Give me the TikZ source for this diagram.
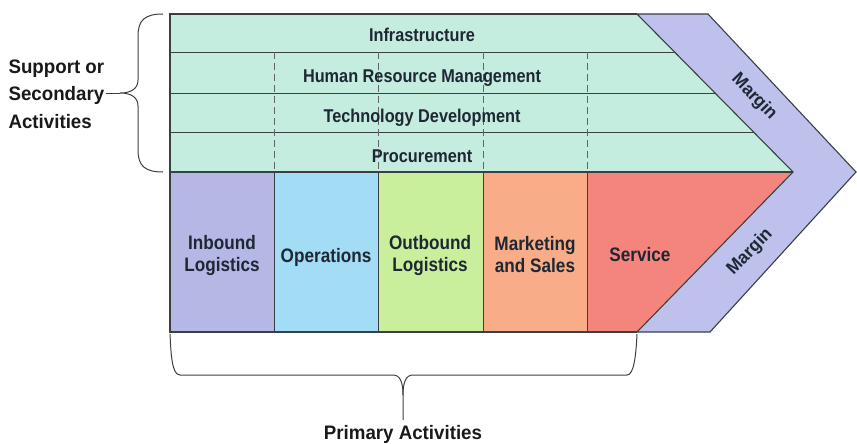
\documentclass[tikz,border=0pt]{standalone}
\usepackage{fontspec}
\setmainfont{Liberation Sans}[FakeStretch=0.88]
\newfontfamily\widefont{Liberation Sans}[FakeStretch=0.96]
\usetikzlibrary{positioning}
\definecolor{supportgreen}{HTML}{C4ECDF}
\definecolor{margincol}{HTML}{BDC1EC}
\definecolor{inboundcol}{HTML}{B5B8E4}
\definecolor{opscol}{HTML}{A3DCF5}
\definecolor{outboundcol}{HTML}{C9EE9C}
\definecolor{marketcol}{HTML}{F8AD88}
\definecolor{servicecol}{HTML}{F4857C}
\definecolor{edgecol}{HTML}{3A3F44}
\definecolor{inkcol}{HTML}{1E2733}
\begin{document}
\begin{tikzpicture}[x=1pt, y=-1pt, line width=1.1pt,
	edge/.style={draw=edgecol, line join=miter},
	lbl/.style={font=\bfseries\fontsize{18.5}{22}\selectfont, text=inkcol, align=center, inner sep=0pt},
	primlbl/.style={lbl, font=\bfseries\fontsize{19.5}{22}\selectfont},
	big/.style={font=\widefont\bfseries\fontsize{19.5}{27.5}\selectfont, text=black!90, inner sep=0pt},
	marginlbl/.style={font=\widefont\bfseries\fontsize{18}{20}\selectfont, text=inkcol, inner sep=0pt}]
		\useasboundingbox (0,0) rectangle (857,444);
		\fill[supportgreen] (170,14) -- (637,14) -- (793,172) -- (170,172) -- cycle;
		\fill[inboundcol] (170,172) rectangle (274,332);
		\fill[opscol] (274,172) rectangle (378,332);
		\fill[outboundcol] (378,172) rectangle (483,332);
		\fill[marketcol] (483,172) rectangle (587,332);
		\fill[servicecol] (587,172) -- (793,172) -- (637,332) -- (587,332) -- cycle;
		\filldraw[fill=margincol, edge] (637,14) -- (708,14) -- (856,172) -- (710,332) -- (637,332) -- (793,172) -- cycle;
		\draw[edge] (637,14) -- (170,14) -- (170,332) -- (637,332) (170,172) -- (793,172);
		\draw[edge, line width=0.9pt] (170,52) -- (674,52) (170,93) -- (715,93) (170,132) -- (753,132);
		\draw[edge, line width=0.9pt] (274,172) -- (274,332) (378,172) -- (378,332) (483,172) -- (483,332) (587,172) -- (587,332);
		\draw[edgecol!80, dash pattern=on 7pt off 4pt, line width=0.9pt] (274,52) -- (274,172) (378,52) -- (378,172) (483,52) -- (483,172) (587,52) -- (587,172);

		\node[lbl, anchor=base] (infra) at (422,42) {Infrastructure};
		\node[lbl, anchor=base] (hrm) at (422,82) {Human Resource Management};
		\node[lbl, anchor=base] (tech) at (422,122) {Technology Development};
		\node[lbl, anchor=base] (proc) at (422,162) {Procurement};
		\node[primlbl] (inbound) at (222,255) {Inbound\\Logistics};
		\node[primlbl] (ops) at (326,257) {Operations};
		\node[primlbl] (outbound) at (430,255) {Outbound\\Logistics};
		\node[primlbl] (marketing) at (535,255) {Marketing\\and Sales};
		\node[primlbl] (service) at (640,255) {Service};
		\node[marginlbl, rotate=-46] (marginup) at (754,97) {Margin};
		\node[marginlbl, rotate=46] (marginlow) at (750,252) {Margin};

		\node[big, anchor=west, align=left] (support) at (8,94) {Support or\\Secondary\\Activities};
		\node[big, anchor=base] (primary) at (403,439) {Primary Activities};
		\draw[edge, line width=1pt] (163,14) .. controls (145,14) and (138,20) .. (138,36) -- (138,80)
			.. controls (138,88) and (132,93) .. (120,93) .. controls (132,93) and (138,98) .. (138,106)
			-- (138,150) .. controls (138,166) and (145,172) .. (163,172);
		\draw[edge, line width=1pt] (support.east |- 0,93) ++(1,0) -- (120,93);
		\draw[edge, line width=1pt] (170,334) .. controls (171,355) and (172,375) .. (180,375) -- (393,375)
			.. controls (400,375) and (403,382) .. (403,395) -- (403,420);
		\draw[edge, line width=1pt] (403,395) .. controls (403,382) and (406,375) .. (413,375) -- (627,375)
			.. controls (634,375) and (636,355) .. (637,334);
\end{tikzpicture}
\end{document}
